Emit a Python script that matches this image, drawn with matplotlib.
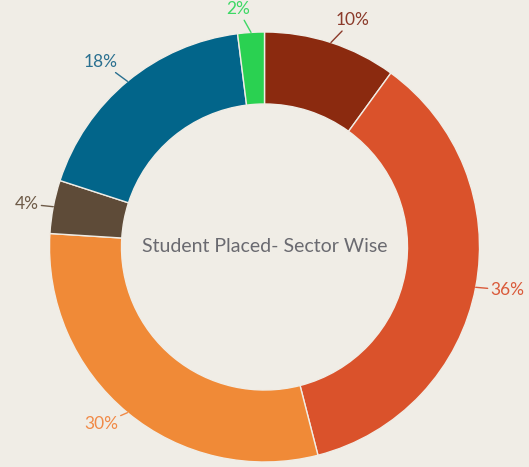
import numpy as np
import matplotlib
matplotlib.use("Agg")
import matplotlib.pyplot as plt

# Data (clockwise from 12 o'clock)
values = [10, 36, 30, 4, 18, 2]
labels = ["10%", "36%", "30%", "4%", "18%", "2%"]
colors = ["#8B2A0F", "#DA522B", "#F08A37", "#5E4B38", "#02658A", "#2AD151"]
label_colors = ["#8B3A2A", "#DA5A3A", "#F08A47", "#6E5B48", "#2A7090", "#3ED865"]
title = "Student Placed- Sector Wise"

BG = "#F0EDE6"
W, H = 529, 467
fig = plt.figure(figsize=(W / 100, H / 100), dpi=100, facecolor=BG)
ax = fig.add_axes([0, 0, 1, 1])
ax.set_facecolor(BG)
ax.axis("off")

cx, cy, R = 264.5, H - 247, 215
ring = 72
wedges, _ = ax.pie(values, colors=colors, startangle=90, counterclock=False,
                   center=(cx, cy), radius=R,
                   wedgeprops=dict(width=ring, edgecolor=BG, linewidth=1.0))
ax.set_xlim(0, W)
ax.set_ylim(0, H)
ax.set_aspect("equal")

for w, lab, col in zip(wedges, labels, label_colors):
    ang = np.deg2rad((w.theta1 + w.theta2) / 2)
    dx, dy = np.cos(ang), np.sin(ang)
    x0, y0 = cx + R * dx, cy + R * dy
    x1, y1 = cx + (R + 15) * dx, cy + (R + 15) * dy
    ha = "left" if dx > 0 else "right"
    if abs(dy) > 0.7:
        va = "bottom" if dy > 0 else "center"
    else:
        va = "center"
    ax.annotate(lab, xy=(x0, y0), xytext=(x1, y1), ha=ha, va=va,
                color=col, fontsize=12.5, family="Lato",
                arrowprops=dict(arrowstyle="-", color=col, lw=1.0,
                                shrinkA=0, shrinkB=0))

ax.text(cx, cy, title, ha="center", va="center", color="#6A6A70",
        fontsize=14, family="Lato")

fig.savefig("out.png", dpi=100, facecolor=BG)
